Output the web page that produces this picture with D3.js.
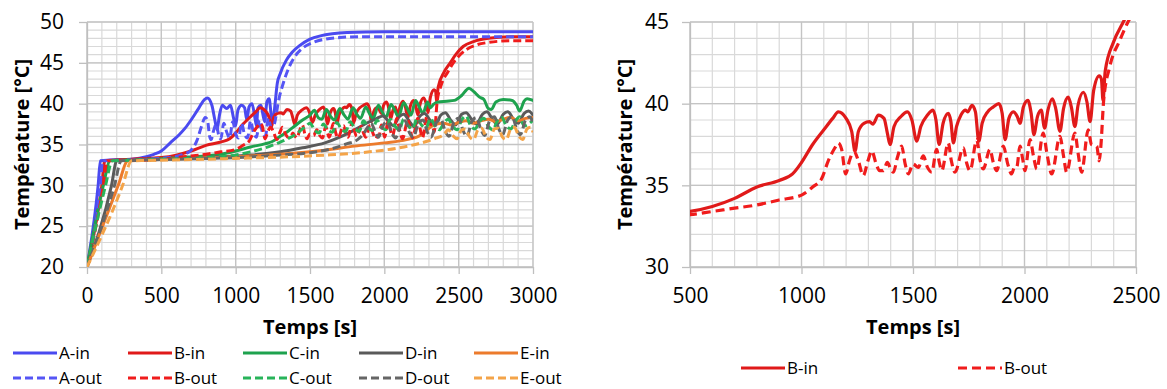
<!DOCTYPE html>
<html><head><meta charset="utf-8">
<script src="https://cdn.jsdelivr.net/npm/d3@7"></script>
<style>
body{margin:0;background:#fff;}
svg text{font-family:"Open Sans",sans-serif;fill:#000;}
</style></head><body>
<svg id="c" width="1167" height="389"></svg>
<script>
// ---- data: [time (s), temperature (°C)] ----
const aIn = [[0,20],[75,30],[90,33],[150,33.1],[300,33.2],[400,33.5],[450,33.8],[500,34.2],[560,35.2],[620,36.2],[660,37],[700,38],[750,39.4],[790,40.5],[810,40.7],[840,39.8],[860,38],[875,36.8],[890,38.5],[910,39.8],[940,39.4],[965,39.8],[985,38.3],[1000,37.3],[1015,39.2],[1040,39.8],[1060,39.5],[1075,38],[1090,39.6],[1110,40],[1130,38.2],[1140,37.3],[1150,39.5],[1170,39.8],[1185,38.5],[1195,37.8],[1210,40.2],[1225,40.6],[1240,38.5],[1250,37.8],[1265,40],[1280,42.5],[1300,43.7],[1340,45.3],[1380,46.3],[1430,47.1],[1500,47.9],[1570,48.3],[1650,48.55],[1750,48.7],[2000,48.8],[3000,48.8]];
const aOut = [[0,20],[90,30],[105,33],[200,33.05],[400,33.2],[550,33.4],[650,33.8],[700,34.3],[740,35.5],[770,37.2],[795,38.3],[810,38],[825,36],[835,35.6],[850,36.6],[870,37.5],[885,36.2],[900,35.7],[920,37.6],[940,36.5],[960,35.8],[980,37.8],[1000,36.3],[1020,35.8],[1040,37.6],[1060,36.2],[1080,35.8],[1100,37.9],[1120,36.4],[1140,35.9],[1160,38],[1180,36.5],[1200,36],[1220,38.2],[1240,37],[1260,37.5],[1290,40.5],[1320,42.5],[1360,44.5],[1400,45.8],[1450,46.8],[1520,47.5],[1600,47.9],[1700,48.1],[1850,48.2],[3000,48.2]];
const bIn = [[0,20],[100,30],[120,33],[200,33.1],[300,33.2],[400,33.3],[500,33.4],[600,33.7],[700,34.2],[800,34.9],[900,35.3],[960,35.7],[1000,36.4],[1050,37.5],[1100,38.4],[1140,39.1],[1165,39.5],[1200,39.1],[1225,38.3],[1240,37.1],[1255,38.3],[1280,38.8],[1305,38.9],[1320,38.75],[1345,39.3],[1370,39.1],[1385,38.2],[1397,37.5],[1415,38.6],[1445,39.2],[1475,39.5],[1495,39],[1517,37.7],[1535,38.6],[1565,39.3],[1590,39.6],[1603,39],[1617,37.5],[1635,38.8],[1658,39.4],[1670,38.9],[1681,37.6],[1695,38.6],[1715,39.3],[1735,39.6],[1745,39.5],[1765,39.9],[1780,39.5],[1795,37.7],[1810,38.8],[1835,39.5],[1860,39.8],[1885,40.0],[1900,39.4],[1913,37.8],[1930,39.1],[1950,39.5],[1968,39.2],[1980,38.8],[1995,39.8],[2015,40.2],[2030,39.4],[2042,38.1],[2058,39.2],[2075,39.6],[2090,38.5],[2105,39.6],[2125,40.3],[2140,39.7],[2159,38.3],[2175,39.7],[2196,40.4],[2210,39.8],[2226,38.6],[2240,39.9],[2264,40.7],[2280,40.1],[2294,38.9],[2310,40.8],[2335,41.7],[2345,41.5],[2352,40.2],[2362,42],[2400,43.8],[2443,45.0],[2480,46],[2530,47],[2600,47.6],[2700,48],[2850,48.2],[3000,48.2]];
const bOut = [[0,20],[110,30],[135,33],[200,33.05],[300,33.1],[400,33.1],[500,33.2],[600,33.4],[700,33.6],[800,33.8],[900,34.1],[1000,34.4],[1050,34.9],[1090,35.4],[1120,36.5],[1150,37.3],[1165,37.6],[1180,37.2],[1198,35.7],[1215,36.5],[1235,37.1],[1255,36.5],[1277,35.6],[1298,36.5],[1315,37.1],[1335,36.3],[1350,35.9],[1367,35.9],[1385,36.4],[1400,36.0],[1412,35.8],[1430,36.7],[1449,37.4],[1465,36.3],[1479,35.7],[1500,36.3],[1524,36.1],[1546,36.8],[1565,36.1],[1584,35.8],[1606,37.2],[1618,36.4],[1629,35.9],[1658,37.6],[1672,36.5],[1688,35.8],[1726,37.3],[1740,36.4],[1756,35.9],[1786,37.8],[1800,36.6],[1815,36.0],[1845,37.2],[1860,36.4],[1875,35.9],[1905,37.4],[1925,36.3],[1942,35.7],[1955,36.1],[1965,36.1],[1980,37.4],[1992,36.6],[2002,35.9],[2025,37.8],[2040,36.8],[2055,36.0],[2084,38.2],[2100,37.0],[2122,35.7],[2159,38.0],[2175,36.8],[2189,35.8],[2226,38.2],[2240,37],[2256,35.8],[2286,38.4],[2300,37.5],[2324,37.4],[2335,36.5],[2343,37.5],[2355,40.2],[2383,42.3],[2428,43.9],[2464,45.0],[2500,45.8],[2550,46.6],[2620,47.2],[2700,47.5],[2850,47.7],[3000,47.7]];
const cIn = [[0,20],[110,30],[155,33],[250,33.1],[400,33.2],[600,33.4],[800,33.6],[900,33.8],[1000,34.2],[1100,34.7],[1200,35.1],[1250,35.4],[1300,36],[1350,36.6],[1400,37.3],[1450,38],[1500,38.6],[1530,39.2],[1555,38.3],[1580,38.1],[1610,39.3],[1640,38.4],[1665,38],[1700,39.4],[1730,38.6],[1755,38.1],[1790,39.5],[1815,38.7],[1840,38.2],[1875,39.6],[1900,38.8],[1925,38.2],[1960,39.8],[1985,39],[2010,38.3],[2045,39.9],[2070,39.2],[2095,38.4],[2130,40.1],[2155,39.4],[2180,38.6],[2210,40.4],[2235,39.6],[2260,38.8],[2290,40.2],[2310,39.5],[2330,39.9],[2360,40.2],[2420,40.3],[2470,40.4],[2520,41],[2570,41.9],[2600,41.5],[2640,40.8],[2670,40.5],[2700,39.4],[2720,39.3],[2750,40.2],[2800,40.5],[2860,40.4],[2890,39.8],[2910,39.1],[2940,40.3],[2960,40.6],[3000,40.4]];
const cOut = [[0,20],[125,30],[170,33],[250,33.05],[500,33.2],[800,33.4],[1000,33.7],[1100,34.1],[1200,34.6],[1300,35.3],[1400,36.2],[1470,37.2],[1500,37.6],[1530,36.8],[1560,36.4],[1590,37.5],[1620,36.8],[1650,36.5],[1680,37.7],[1710,36.9],[1740,36.6],[1770,37.8],[1800,37],[1830,36.6],[1860,37.9],[1890,37.1],[1920,36.7],[1950,38],[1980,37.2],[2010,36.8],[2040,38.1],[2070,37.3],[2100,36.8],[2130,38.1],[2160,37.3],[2190,36.9],[2220,38.2],[2250,37.4],[2280,37],[2310,38.2],[2340,37.3],[2370,36.8],[2400,37.6],[2430,38.1],[2460,37.2],[2490,36.8],[2520,38],[2550,38.5],[2580,37.3],[2610,36.9],[2640,37.8],[2670,38.2],[2700,37.2],[2730,36.8],[2760,37.9],[2790,38.3],[2820,37.3],[2850,36.9],[2880,37.8],[2910,38.4],[2940,37.3],[2970,37.5],[3000,38]];
const dIn = [[0,20],[165,30],[200,33],[300,33.1],[600,33.3],[900,33.5],[1100,33.7],[1300,34.1],[1450,34.6],[1600,35.2],[1700,35.9],[1800,36.8],[1880,37.6],[1950,38.2],[1990,38.5],[2030,37.8],[2060,37.3],[2100,38.4],[2130,38.7],[2170,37.8],[2200,37.2],[2240,38.5],[2270,38.8],[2310,37.9],[2340,37.3],[2380,38.6],[2410,38.9],[2450,37.9],[2480,37.4],[2520,38.7],[2550,38.9],[2590,38],[2620,37.5],[2660,38.7],[2690,39],[2730,38],[2760,37.5],[2800,38.7],[2830,39],[2870,38.1],[2900,37.6],[2940,38.8],[2970,39.1],[3000,38.6]];
const dOut = [[0,20],[185,30],[230,33],[300,33.05],[600,33.2],[1000,33.4],[1300,33.7],[1500,34],[1650,34.5],[1750,35.1],[1820,35.6],[1860,36.3],[1890,37.2],[1910,37.6],[1940,36.5],[1960,35.9],[1990,37.3],[2020,37.8],[2050,36.4],[2075,35.8],[2110,37.4],[2140,37.9],[2170,36.4],[2195,35.9],[2230,37.6],[2260,38],[2290,36.5],[2315,35.9],[2350,37.7],[2380,38.1],[2410,36.6],[2435,36],[2470,37.8],[2500,38.2],[2530,36.7],[2555,36],[2590,37.9],[2620,38.3],[2650,36.8],[2675,36.1],[2710,38],[2740,38.4],[2770,36.9],[2795,36.2],[2830,38],[2860,38.4],[2890,36.9],[2915,36.2],[2950,38],[2980,38.4],[3000,37.5]];
const eIn = [[0,20],[210,30],[275,33],[400,33.1],[700,33.3],[1000,33.5],[1300,33.8],[1600,34.3],[1800,34.8],[2000,35.2],[2150,35.6],[2250,36.2],[2300,37],[2350,37.5],[2400,37.6],[2450,37.4],[2500,37.7],[2550,37.9],[2600,37.6],[2650,37.9],[2700,38.1],[2750,37.8],[2800,38.1],[2850,38.3],[2900,37.9],[2950,38.2],[3000,38.3]];
const eOut = [[0,20],[240,30],[300,33],[400,33.05],[700,33.15],[1000,33.3],[1300,33.45],[1600,33.7],[1900,34.1],[2100,34.6],[2250,35.2],[2350,35.8],[2400,36.2],[2430,36.8],[2460,36.1],[2490,35.7],[2520,36.8],[2545,36.9],[2575,35.9],[2600,35.6],[2630,36.8],[2655,37],[2685,35.9],[2710,35.6],[2740,36.9],[2765,37],[2795,35.9],[2820,35.6],[2850,36.9],[2875,37.1],[2905,36],[2930,35.6],[2960,36.9],[2985,37.1],[3000,36.5]];

const seriesNames = ["A-in","B-in","C-in","D-in","E-in","A-out","B-out","C-out","D-out","E-out"];
const xTicksLeft = [0,500,1000,1500,2000,2500,3000];
const yTicksLeft = [20,25,30,35,40,45,50];
const xTicksRight = [500,1000,1500,2000,2500];
const yTicksRight = [30,35,40,45];
const xTitle = "Temps [s]";
const yTitle = "Température [°C]";
const rightSeriesNames = ["B-in","B-out"];

// ---- styles ----
const dataByName = {"A-in":aIn,"B-in":bIn,"C-in":cIn,"D-in":dIn,"E-in":eIn,"A-out":aOut,"B-out":bOut,"C-out":cOut,"D-out":dOut,"E-out":eOut};
const colorByName = {"A-in":"#4a4af0","A-out":"#5555f5","B-in":"#e01a1a","B-out":"#f01c1c","C-in":"#1ea24e","C-out":"#28b45a","D-in":"#5a5a5a","D-out":"#666666","E-in":"#ec7b2c","E-out":"#f4a449"};

const svg = d3.select("#c");
let clipId = 0;

function panel(cfg){
  const x = d3.scaleLinear().domain(cfg.xd).range([cfg.x0,cfg.x1]);
  const y = d3.scaleLinear().domain(cfg.yd).range([cfg.y1,cfg.y0]);
  const g = svg.append("g");
  const xMinor = x.ticks(cfg.xMinorCount);
  const yMinor = y.ticks(cfg.yMinorCount);
  // minor grid
  g.append("g").selectAll("line").data(xMinor).join("line")
    .attr("x1",d=>x(d)).attr("x2",d=>x(d)).attr("y1",cfg.y0).attr("y2",cfg.y1)
    .attr("stroke","#d9d9d9").attr("stroke-width",1.2);
  g.append("g").selectAll("line").data(yMinor).join("line")
    .attr("y1",d=>y(d)).attr("y2",d=>y(d)).attr("x1",cfg.x0).attr("x2",cfg.x1)
    .attr("stroke","#d9d9d9").attr("stroke-width",1.2);
  // major grid
  g.append("g").selectAll("line").data(cfg.xTicks).join("line")
    .attr("x1",d=>x(d)).attr("x2",d=>x(d)).attr("y1",cfg.y0).attr("y2",cfg.y1)
    .attr("stroke","#c4c4c4").attr("stroke-width",1.3);
  g.append("g").selectAll("line").data(cfg.yTicks).join("line")
    .attr("y1",d=>y(d)).attr("y2",d=>y(d)).attr("x1",cfg.x0).attr("x2",cfg.x1)
    .attr("stroke","#c4c4c4").attr("stroke-width",1.3);
  // axes
  const ax = g.append("g").attr("transform",`translate(0,${cfg.y1})`)
    .call(d3.axisBottom(x).tickValues(cfg.xTicks).tickFormat(d3.format("d")).tickSize(7).tickPadding(14).tickSizeOuter(0));
  const ay = g.append("g").attr("transform",`translate(${cfg.x0},0)`)
    .call(d3.axisLeft(y).tickValues(cfg.yTicks).tickFormat(d3.format("d")).tickSize(8).tickPadding(cfg.yPad).tickSizeOuter(0));
  [ax,ay].forEach(a=>{
    a.select(".domain").attr("stroke","#bfbfbf").attr("stroke-width",1.3);
    a.selectAll(".tick line").attr("stroke","#bfbfbf").attr("stroke-width",1.3);
    a.selectAll(".tick text").attr("font-size",21).attr("font-family","'Open Sans',sans-serif").attr("fill","#111");
  });
  // titles
  g.append("text").attr("x",(cfg.x0+cfg.x1)/2).attr("y",cfg.xTitleY).attr("text-anchor","middle")
    .attr("font-size",20).attr("font-weight","bold").text(xTitle);
  g.append("text").attr("transform",`translate(${cfg.yTitleX},${(cfg.y0+cfg.y1)/2}) rotate(-90)`)
    .attr("text-anchor","middle").attr("dy","0.35em")
    .attr("font-size",20).attr("font-weight","bold").text(yTitle);
  // clip
  const cid = "clip"+(clipId++);
  svg.append("defs").append("clipPath").attr("id",cid).append("rect")
    .attr("x",cfg.x0).attr("y",cfg.y0-2).attr("width",cfg.x1-cfg.x0).attr("height",cfg.y1-cfg.y0+2);
  const line = d3.line().x(d=>x(d[0])).y(d=>y(d[1])).curve(d3.curveMonotoneX);
  const lg = g.append("g").attr("clip-path",`url(#${cid})`);
  cfg.names.forEach(n=>{
    const isOut = n.endsWith("out");
    lg.append("path").datum(dataByName[n]).attr("d",line).attr("fill","none")
      .attr("stroke",colorByName[n]).attr("stroke-width",cfg.sw)
      .attr("stroke-linejoin","round").attr("stroke-linecap", isOut ? "butt" : "round")
      .attr("stroke-dasharray", isOut ? cfg.dash : null);
  });
  return {x,y};
}

panel({x0:87,x1:533,y0:22,y1:267,xd:[0,3000],yd:[20,50],xMinorCount:30,yMinorCount:30,
  xTicks:xTicksLeft,yTicks:yTicksLeft,yPad:15,xTitleY:334,yTitleX:22,
  names:seriesNames,sw:3,dash:"8,4"});
panel({x0:690,x1:1136,y0:22,y1:267,xd:[500,2500],yd:[30,45],xMinorCount:20,yMinorCount:15,
  xTicks:xTicksRight,yTicks:yTicksRight,yPad:13,xTitleY:334,yTitleX:625,
  names:rightSeriesNames,sw:3.2,dash:"9,5"});

// ---- legends ----
function legendItem(xl, yl, len, name, sw, dash, fs){
  const isOut = name.endsWith("out");
  svg.append("line").attr("x1",xl).attr("x2",xl+len).attr("y1",yl).attr("y2",yl)
    .attr("stroke",colorByName[name]).attr("stroke-width",sw)
    .attr("stroke-dasharray",isOut?dash:null);
  svg.append("text").attr("x",xl+len+2).attr("y",yl).attr("dy","0.35em")
    .attr("font-size",fs).attr("fill","#111").text(name);
}
const legendLeftX = [13,128,243,359,474];
seriesNames.forEach((n,i)=>{
  const col = i%5, row = Math.floor(i/5);
  legendItem(legendLeftX[col], row===0?353:378, 44, n, 3, "8,4", 17);
});
const legendRightX = [741,958];
rightSeriesNames.forEach((n,i)=>legendItem(legendRightX[i],368,44,n,3.2,"9,5",17));
</script>
</body></html>
